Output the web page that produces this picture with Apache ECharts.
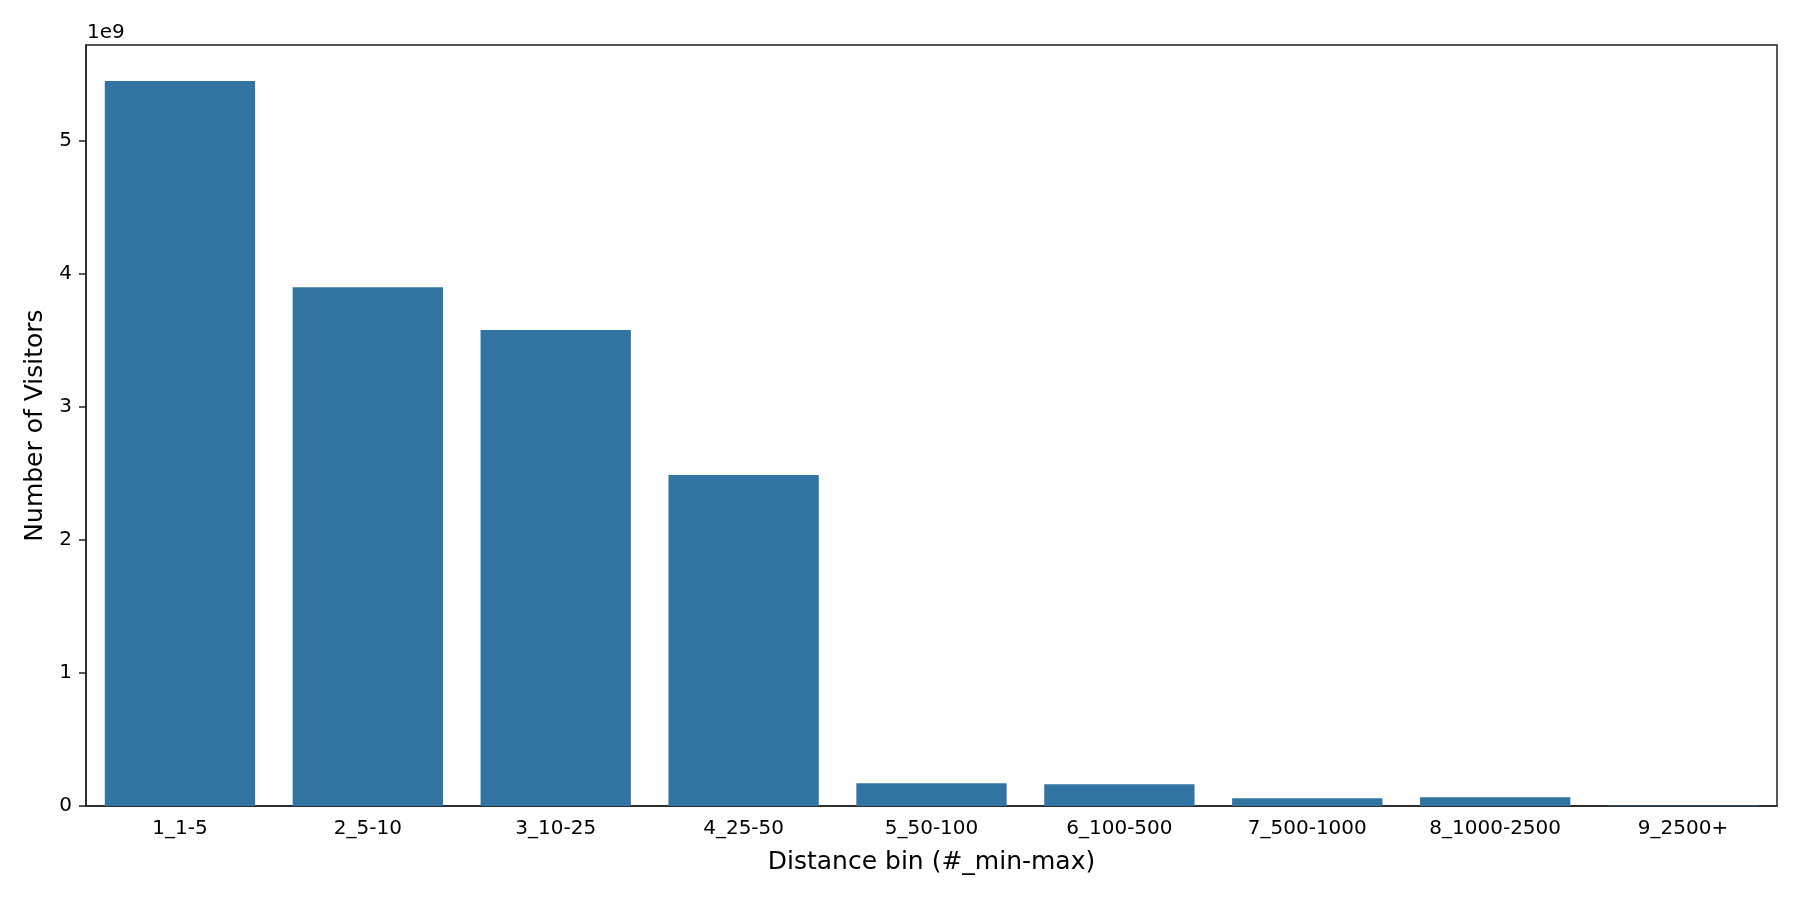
<!DOCTYPE html>
<html>
<head>
<meta charset="utf-8">
<script src="https://cdn.jsdelivr.net/npm/echarts@6/dist/echarts.min.js"></script>
<style>
  html, body { margin: 0; padding: 0; background: #fff; }
  #chart { width: 1800px; height: 900px; }
</style>
</head>
<body>
<div id="chart"></div>
<script>
// distance bins and visitor counts
const bins = ['1_1-5', '2_5-10', '3_10-25', '4_25-50', '5_50-100', '6_100-500', '7_500-1000', '8_1000-2500', '9_2500+'];
const visitors = [5.45e9, 3.90e9, 3.577e9, 2.487e9, 0.171e9, 0.163e9, 0.058e9, 0.066e9, 0.004e9];
const yTicks = [0, 1e9, 2e9, 3e9, 4e9, 5e9];

const font = 'DejaVu Sans';
const chart = echarts.init(document.getElementById('chart'));

chart.setOption({
  animation: false,
  textStyle: { fontFamily: font },
  title: {
    text: '1e9',
    left: 87,
    top: 23,
    padding: 0,
    textStyle: { fontFamily: font, fontSize: 20, fontWeight: 'normal', color: '#000' }
  },
  grid: {
    left: 86, right: 23, top: 45, bottom: 94,
    show: true, borderColor: '#222', borderWidth: 1.5, backgroundColor: 'transparent'
  },
  xAxis: {
    type: 'category',
    data: bins,
    name: 'Distance bin (#_min-max)',
    nameLocation: 'middle',
    nameGap: 44,
    nameTextStyle: { fontFamily: font, fontSize: 25, color: '#000' },
    axisLine: { lineStyle: { color: '#222', width: 1.5 } },
    axisTick: { alignWithLabel: true, length: 7, lineStyle: { color: '#222', width: 1.5 } },
    axisLabel: { fontFamily: font, fontSize: 20, color: '#000', margin: 13 }
  },
  yAxis: {
    type: 'value',
    min: 0,
    max: 5.72e9,
    interval: 1e9,
    name: 'Number of Visitors',
    nameLocation: 'middle',
    nameGap: 36,
    nameTextStyle: { fontFamily: font, fontSize: 25, color: '#000' },
    axisLine: { show: true, lineStyle: { color: '#222', width: 1.5 } },
    axisTick: { show: true, length: 7, lineStyle: { color: '#222', width: 1.5 } },
    splitLine: { show: false },
    axisLabel: {
      fontFamily: font, fontSize: 20, color: '#000', margin: 14,
      showMaxLabel: false,
      formatter: v => yTicks.indexOf(v) >= 0 ? String(v / 1e9) : ''
    }
  },
  series: [{
    type: 'bar',
    data: visitors,
    barWidth: '80%',
    itemStyle: { color: '#3274a1' }
  }]
});
</script>
</body>
</html>
